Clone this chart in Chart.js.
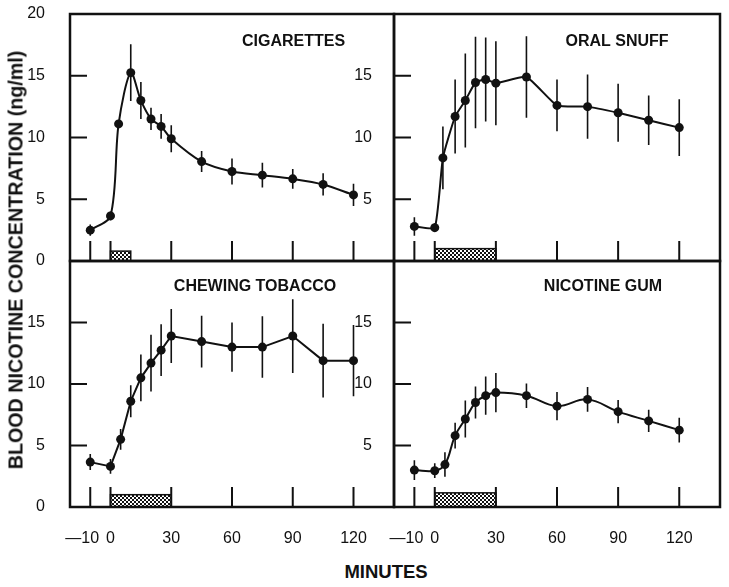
<!DOCTYPE html>
<html>
<head>
<meta charset="utf-8">
<title>Blood nicotine concentration</title>
<script src="https://cdn.jsdelivr.net/npm/chart.js@4.4.1/dist/chart.umd.min.js"></script>
<style>
  html, body { margin: 0; padding: 0; background: #fff; }
  body {
    width: 729px; height: 587px; position: relative; overflow: hidden;
    font-family: "Liberation Sans", Arial, sans-serif; color: #111;
  }
  canvas { position: absolute; }
  .axis-title { position: absolute; font-weight: bold; white-space: nowrap; }
  #yTitle { left: 16px; top: 260px; font-size: 19.7px; transform: translate(-50%, -50%) rotate(-90deg); }
  #xTitle { left: 386px; top: 572px; font-size: 18.5px; transform: translate(-50%, -50%); }
</style>
</head>
<body>
<canvas id="cigChart"></canvas>
<canvas id="snuffChart"></canvas>
<canvas id="chewChart"></canvas>
<canvas id="gumChart"></canvas>
<div id="yTitle" class="axis-title">BLOOD NICOTINE CONCENTRATION (ng/ml)</div>
<div id="xTitle" class="axis-title">MINUTES</div>

<script>
// Data (means and error bars, ng/ml)
const panelTitles = ['CIGARETTES', 'ORAL SNUFF', 'CHEWING TOBACCO', 'NICOTINE GUM'];

const minutesCig = [-10, 0, 4, 10, 15, 20, 25, 30, 45, 60, 75, 90, 105, 120];
const cigarettes = [2.5, 3.65, 11.1, 15.25, 13.0, 11.5, 10.9, 9.9, 8.05, 7.25, 6.95, 6.65, 6.2, 5.35];
const cigarettesErr = [0.45, 0.35, 0.3, 2.3, 1.5, 0.9, 1.0, 1.1, 0.85, 1.05, 1.0, 0.8, 0.9, 0.9];

const minutesSnuff = [-10, 0, 4, 10, 15, 20, 25, 30, 45, 60, 75, 90, 105, 120];
const oralSnuff = [2.8, 2.7, 8.35, 11.7, 13.0, 14.45, 14.7, 14.4, 14.9, 12.6, 12.5, 12.0, 11.4, 10.8];
const oralSnuffErr = [0.75, 0.35, 2.55, 3.0, 3.8, 3.7, 3.4, 3.4, 3.3, 2.1, 2.6, 2.35, 2.0, 2.3];

const minutesChew = [-10, 0, 5, 10, 15, 20, 25, 30, 45, 60, 75, 90, 105, 120];
const chewingTobacco = [3.65, 3.3, 5.5, 8.6, 10.5, 11.7, 12.75, 13.9, 13.45, 13.0, 13.0, 13.9, 11.9, 11.9];
const chewingErr = [0.65, 0.6, 0.85, 1.3, 1.9, 2.3, 2.1, 2.2, 2.1, 2.0, 2.5, 3.0, 3.0, 2.9];

const minutesGum = [-10, 0, 5, 10, 15, 20, 25, 30, 45, 60, 75, 90, 105, 120];
const nicotineGum = [3.0, 2.95, 3.45, 5.8, 7.15, 8.5, 9.05, 9.3, 9.05, 8.2, 8.75, 7.75, 7.0, 6.25];
const nicotineGumErr = [0.8, 0.6, 1.0, 1.05, 1.5, 1.3, 1.55, 1.6, 1.0, 1.15, 1.0, 0.95, 0.9, 1.0];

// exposure period (shaded box on the time axis)
const exposureEnd = [10, 30, 30, 30];
const exposureLevel = [0.8, 1.0, 1.0, 1.15];

// axes
const xTicks = [-10, 0, 30, 60, 90, 120];
const xTickLabels = ['\u201410\u2003', '0', '30', '60', '90', '120'];
const yTicks = [5, 10, 15];
const yLabelsTopLeft = [0, 5, 10, 15, 20];
const yLabelsBottomLeft = [0, 5, 10, 15];
const yLabelsRight = [5, 10, 15];

Chart.defaults.font.family = '"Liberation Sans", Arial, sans-serif';
Chart.defaults.color = '#111';

const MARGIN = 32; // room around each panel for tick labels

function checker(ctx) {
    const c = document.createElement('canvas');
    c.width = 4; c.height = 4;
    const g = c.getContext('2d');
    g.fillStyle = '#fff';
    g.fillRect(0, 0, 4, 4);
    g.fillStyle = '#111';
    g.fillRect(0, 0, 2, 2);
    g.fillRect(2, 2, 2, 2);
    return ctx.createPattern(c, 'repeat');
}

// frame, inward ticks, exposure box, error bars, panel title
const panelDecor = {
    id: 'panelDecor',
    beforeDatasetsDraw(chart, args, o) {
        const ctx = chart.ctx;
        const a = chart.chartArea;
        const x = chart.scales.x, y = chart.scales.y;
        ctx.save();

        // exposure box
        const x0 = x.getPixelForValue(0), x1 = x.getPixelForValue(o.barEnd);
        const yTop = y.getPixelForValue(o.barLevel), yBase = y.getPixelForValue(0);
        ctx.fillStyle = checker(ctx);
        ctx.fillRect(x0, yTop, x1 - x0, yBase - yTop);
        ctx.strokeStyle = '#111';
        ctx.lineWidth = 1.5;
        ctx.strokeRect(x0, yTop, x1 - x0, yBase - yTop);

        // ticks pointing into the panel
        ctx.lineWidth = 2;
        ctx.beginPath();
        yTicks.forEach(v => {
            const py = y.getPixelForValue(v);
            ctx.moveTo(a.left, py);
            ctx.lineTo(a.left + 17, py);
        });
        xTicks.forEach(v => {
            const px = x.getPixelForValue(v);
            ctx.moveTo(px, a.bottom);
            ctx.lineTo(px, a.bottom - 20);
        });
        ctx.stroke();

        // error bars
        ctx.lineWidth = 1.6;
        ctx.beginPath();
        o.minutes.forEach((m, i) => {
            const px = x.getPixelForValue(m);
            ctx.moveTo(px, y.getPixelForValue(o.values[i] - o.err[i]));
            ctx.lineTo(px, y.getPixelForValue(o.values[i] + o.err[i]));
        });
        ctx.stroke();
        ctx.restore();
    },
    afterDraw(chart, args, o) {
        const ctx = chart.ctx;
        const a = chart.chartArea;
        ctx.save();
        ctx.strokeStyle = '#111';
        ctx.lineWidth = 2.5;
        ctx.strokeRect(a.left, a.top, a.right - a.left, a.bottom - a.top);

        ctx.fillStyle = '#111';
        ctx.font = 'bold 16px "Liberation Sans", Arial, sans-serif';
        ctx.textAlign = 'center';
        ctx.textBaseline = 'middle';
        ctx.fillText(o.title, a.left + o.titleX * (a.right - a.left), a.top + o.titleY);
        ctx.restore();
    }
};

function makePanel(id, frame, p) {
    const canvas = document.getElementById(id);
    const w = frame.right - frame.left + 60 + 12;
    const h = frame.bottom - frame.top + MARGIN + (frame.bottomRow ? 40 : MARGIN);
    canvas.width = w;
    canvas.height = h;
    canvas.style.width = w + 'px';
    canvas.style.height = h + 'px';
    canvas.style.left = (frame.left - 60) + 'px';
    canvas.style.top = (frame.top - MARGIN) + 'px';

    return new Chart(canvas, {
        type: 'line',
        data: {
            datasets: [{
                data: p.minutes.map((m, i) => ({ x: m, y: p.values[i] })),
                borderColor: '#111',
                borderWidth: 2,
                pointRadius: 4.5,
                pointBackgroundColor: '#111',
                pointBorderWidth: 0,
                tension: p.tension
            }]
        },
        options: {
            responsive: false,
            animation: false,
            devicePixelRatio: 1,
            layout: {
                autoPadding: false,
                padding: { left: 0, top: MARGIN, right: 12, bottom: frame.bottomRow ? 0 : MARGIN }
            },
            scales: {
                x: {
                    type: 'linear',
                    min: -20,
                    max: 140,
                    display: frame.bottomRow,
                    grid: { display: false },
                    border: { display: false },
                    afterBuildTicks: s => { s.ticks = xTicks.map(v => ({ value: v })); },
                    afterFit: s => { s.height = frame.bottomRow ? 40 : 0; },
                    ticks: {
                        autoSkip: false,
                        maxRotation: 0,
                        padding: 14,
                        font: { size: 16 },
                        callback: (v, i) => xTickLabels[i]
                    }
                },
                y: {
                    min: 0,
                    max: 20,
                    grid: { display: false },
                    border: { display: false },
                    afterBuildTicks: s => { s.ticks = p.yLabels.map(v => ({ value: v })); },
                    afterFit: s => { s.width = 60; },
                    ticks: {
                        autoSkip: false,
                        padding: p.labelGap,
                        font: { size: 16 }
                    }
                }
            },
            plugins: {
                legend: { display: false },
                tooltip: { enabled: false },
                panelDecor: {
                    title: p.title,
                    titleX: p.titleX,
                    titleY: p.titleY,
                    minutes: p.minutes,
                    values: p.values,
                    err: p.err,
                    barEnd: p.barEnd,
                    barLevel: p.barLevel
                }
            }
        },
        plugins: [panelDecor]
    });
}

makePanel('cigChart', { left: 70, top: 14, right: 394, bottom: 261, bottomRow: false }, {
    title: panelTitles[0], titleX: 0.69, titleY: 28,
    minutes: minutesCig, values: cigarettes, err: cigarettesErr, tension: 0.3,
    barEnd: exposureEnd[0], barLevel: exposureLevel[0],
    yLabels: yLabelsTopLeft, labelGap: 17
});
makePanel('snuffChart', { left: 394, top: 14, right: 720, bottom: 261, bottomRow: false }, {
    title: panelTitles[1], titleX: 0.684, titleY: 28,
    minutes: minutesSnuff, values: oralSnuff, err: oralSnuffErr, tension: 0.15,
    barEnd: exposureEnd[1], barLevel: exposureLevel[1],
    yLabels: yLabelsRight, labelGap: 14
});
makePanel('chewChart', { left: 70, top: 261, right: 394, bottom: 507, bottomRow: true }, {
    title: panelTitles[2], titleX: 0.571, titleY: 26,
    minutes: minutesChew, values: chewingTobacco, err: chewingErr, tension: 0,
    barEnd: exposureEnd[2], barLevel: exposureLevel[2],
    yLabels: yLabelsBottomLeft, labelGap: 17
});
makePanel('gumChart', { left: 394, top: 261, right: 720, bottom: 507, bottomRow: true }, {
    title: panelTitles[3], titleX: 0.641, titleY: 26,
    minutes: minutesGum, values: nicotineGum, err: nicotineGumErr, tension: 0.4,
    barEnd: exposureEnd[3], barLevel: exposureLevel[3],
    yLabels: yLabelsRight, labelGap: 14
});
</script>
</body>
</html>
